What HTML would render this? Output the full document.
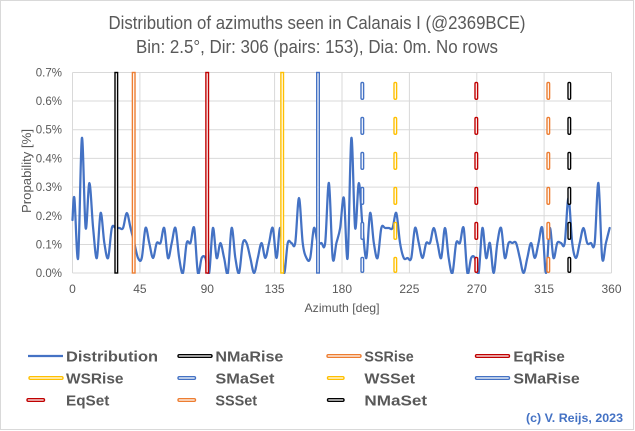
<!DOCTYPE html>
<html><head><meta charset="utf-8">
<style>
html,body{margin:0;padding:0;background:#fff;}
svg{display:block;font-family:"Liberation Sans",Arial,sans-serif;}
</style></head>
<body>
<svg width="635" height="431" viewBox="0 0 635 431" xmlns="http://www.w3.org/2000/svg">
<rect x="0" y="0" width="635" height="431" fill="#fff"/>
<rect x="0.5" y="0.5" width="633" height="429" fill="none" stroke="#D9D9D9" stroke-width="1"/>

<!-- Title -->
<text x="317" y="29" text-anchor="middle" font-size="18" fill="#595959" textLength="417" lengthAdjust="spacingAndGlyphs">Distribution of azimuths seen in  Calanais I (@2369BCE)</text>
<text x="317" y="53" text-anchor="middle" font-size="18" fill="#595959" textLength="362" lengthAdjust="spacingAndGlyphs">Bin: 2.5°, Dir: 306 (pairs: 153), Dia: 0m. No rows</text>

<!-- gridlines -->
<g stroke="#D9D9D9" stroke-width="1" fill="none">
<line x1="72.5" y1="72.5" x2="611.5" y2="72.5"/>
<line x1="72.5" y1="101" x2="611.5" y2="101"/>
<line x1="72.5" y1="129.7" x2="611.5" y2="129.7"/>
<line x1="72.5" y1="158.4" x2="611.5" y2="158.4"/>
<line x1="72.5" y1="187.1" x2="611.5" y2="187.1"/>
<line x1="72.5" y1="215.8" x2="611.5" y2="215.8"/>
<line x1="72.5" y1="244.5" x2="611.5" y2="244.5"/>
<line x1="72.5" y1="273" x2="611.5" y2="273"/>
<line x1="72.5" y1="72.5" x2="72.5" y2="273"/>
<line x1="139.9" y1="72.5" x2="139.9" y2="273"/>
<line x1="207.3" y1="72.5" x2="207.3" y2="273"/>
<line x1="274.6" y1="72.5" x2="274.6" y2="273"/>
<line x1="342" y1="72.5" x2="342" y2="273"/>
<line x1="409.4" y1="72.5" x2="409.4" y2="273"/>
<line x1="476.8" y1="72.5" x2="476.8" y2="273"/>
<line x1="544.1" y1="72.5" x2="544.1" y2="273"/>
<line x1="611.5" y1="72.5" x2="611.5" y2="273"/>
</g>

<!-- y tick labels -->
<g font-size="11.5" fill="#595959" text-anchor="end">
<text x="62" y="76.5">0.7%</text>
<text x="62" y="105">0.6%</text>
<text x="62" y="133.7">0.5%</text>
<text x="62" y="162.4">0.4%</text>
<text x="62" y="191.1">0.3%</text>
<text x="62" y="219.8">0.2%</text>
<text x="62" y="248.5">0.1%</text>
<text x="62" y="277">0.0%</text>
</g>
<!-- x tick labels -->
<g font-size="12" fill="#595959" text-anchor="middle">
<text x="72.5" y="293">0</text>
<text x="139.9" y="293">45</text>
<text x="207.3" y="293">90</text>
<text x="274.6" y="293">135</text>
<text x="342" y="293">180</text>
<text x="409.4" y="293">225</text>
<text x="476.8" y="293">270</text>
<text x="544.1" y="293">315</text>
<text x="611.5" y="293">360</text>
</g>
<text x="342" y="312" text-anchor="middle" font-size="12" fill="#595959" textLength="75" lengthAdjust="spacingAndGlyphs">Azimuth  [deg]</text>
<text transform="translate(31,171) rotate(-90)" text-anchor="middle" font-size="12.5" fill="#595959" textLength="84" lengthAdjust="spacingAndGlyphs">Propability [%]</text>

<defs><clipPath id="pc"><rect x="60" y="60" width="560" height="214"/></clipPath></defs>

<!-- distribution curve -->
<path id="dist" clip-path="url(#pc)" fill="none" stroke="#4472C4" stroke-width="2.25" stroke-linejoin="round" stroke-linecap="round" d=""/>

<!-- solid outlined vertical lines -->
<g fill="#fff" stroke-width="1.4">
<rect x="115" y="72.5" width="2.6" height="200.5" stroke="#000000"/>
<rect x="132.4" y="72.5" width="2.6" height="200.5" stroke="#ED7D31"/>
<rect x="205.9" y="72.5" width="2.6" height="200.5" stroke="#C00000"/>
<rect x="280.9" y="72.5" width="2.6" height="200.5" stroke="#FFC000"/>
<rect x="316.7" y="72.5" width="2.6" height="200.5" stroke="#4472C4"/>
</g>

<!-- dashed outlined vertical lines -->
<g id="dashes" fill="#fff" stroke-width="1.4"></g>

<!-- Legend -->
<g font-size="15" font-weight="bold" fill="#595959">
<line x1="28" y1="356" x2="63" y2="356" stroke="#4472C4" stroke-width="2.25"/>
<text x="66" y="361.5" textLength="92" lengthAdjust="spacingAndGlyphs">Distribution</text>
<rect x="178" y="354.7" width="34" height="2.6" rx="1.3" fill="#fff" stroke="#000" stroke-width="1.4"/>
<text x="215.4" y="361.5" textLength="68" lengthAdjust="spacingAndGlyphs">NMaRise</text>
<rect x="327" y="354.7" width="34" height="2.6" rx="1.3" fill="#fff" stroke="#ED7D31" stroke-width="1.4"/>
<text x="364.4" y="361.5" textLength="49.4" lengthAdjust="spacingAndGlyphs">SSRise</text>
<rect x="475.5" y="354.7" width="34" height="2.6" rx="1.3" fill="#fff" stroke="#C00000" stroke-width="1.4"/>
<text x="513.4" y="361.5" textLength="51.4" lengthAdjust="spacingAndGlyphs">EqRise</text>

<rect x="29" y="376.7" width="34" height="2.6" rx="1.3" fill="#fff" stroke="#FFC000" stroke-width="1.4"/>
<text x="66" y="383.5" textLength="57.5" lengthAdjust="spacingAndGlyphs">WSRise</text>
<rect x="178" y="376.7" width="17.5" height="2.6" rx="1.3" fill="#fff" stroke="#4472C4" stroke-width="1.4"/>
<text x="215.4" y="383.5" textLength="59" lengthAdjust="spacingAndGlyphs">SMaSet</text>
<rect x="327.5" y="376.7" width="16.5" height="2.6" rx="1.3" fill="#fff" stroke="#FFC000" stroke-width="1.4"/>
<text x="364.4" y="383.5" textLength="50.6" lengthAdjust="spacingAndGlyphs">WSSet</text>
<rect x="475.5" y="376.7" width="34" height="2.6" rx="1.3" fill="#fff" stroke="#4472C4" stroke-width="1.4"/>
<text x="513.4" y="383.5" textLength="66.4" lengthAdjust="spacingAndGlyphs">SMaRise</text>

<rect x="27" y="398.7" width="17.5" height="2.6" rx="1.3" fill="#fff" stroke="#C00000" stroke-width="1.4"/>
<text x="66" y="405.5" textLength="43.3" lengthAdjust="spacingAndGlyphs">EqSet</text>
<rect x="178" y="398.7" width="17.5" height="2.6" rx="1.3" fill="#fff" stroke="#ED7D31" stroke-width="1.4"/>
<text x="215.4" y="405.5" textLength="41.7" lengthAdjust="spacingAndGlyphs">SSSet</text>
<rect x="327.5" y="398.7" width="16.5" height="2.6" rx="1.3" fill="#fff" stroke="#000" stroke-width="1.4"/>
<text x="364.4" y="405.5" textLength="62.7" lengthAdjust="spacingAndGlyphs">NMaSet</text>
</g>
<text x="526" y="422" font-size="12" font-weight="bold" fill="#4472C4" textLength="97" lengthAdjust="spacingAndGlyphs">(c) V. Reijs, 2023</text>
</svg>

<script>
(function(){
var v=[5,1,9,3,6,3,1,4,2,1,3,3,3,3,4,3,2,1,1,3,2,1,2,2,3,1,2,3,1,0,
2,2,3,0,1,1,0,3,1,2,1,0,3,1,0,2,2,1,0,1,2,1,2,3,1,3,0,2,2,2,
5,2,1,1,3,2,2,2,6,1,2,3,5,1,9,3,6,3,1,4,2,1,3,3,3,3,4,2,1,1,
1,3,2,1,2,2,3,2,1,3,1,0,2,2,3,0,1,1,0,3,1,2,0,2,3,1,2,2,2,1,
0,1,2,1,2,3,0,3,1,2,2,2,5,2,1,2,3,2,2,2,6,1,2,3];
var p=[[72.5,220]];
for(var k=0;k<v.length;k++){p.push([74.4+3.743*k,273-15*v[k]]);}
var d="M"+p[0][0].toFixed(2)+","+p[0][1].toFixed(2);
for(var i=0;i<p.length-1;i++){
 var a=p[i-1]||p[i],b=p[i],c=p[i+1],e=p[i+2]||p[i+1];
 var c1x=b[0]+(c[0]-a[0])/6,c1y=b[1]+(c[1]-a[1])/6;
 var c2x=c[0]-(e[0]-b[0])/6,c2y=c[1]-(e[1]-b[1])/6;
 d+="C"+c1x.toFixed(2)+","+c1y.toFixed(2)+" "+c2x.toFixed(2)+","+c2y.toFixed(2)+" "+c[0].toFixed(2)+","+c[1].toFixed(2);
}
document.getElementById("dist").setAttribute("d",d);
var ns="http://www.w3.org/2000/svg";
var g=document.getElementById("dashes");
var cols=[[362.3,"#4472C4"],[395.3,"#FFC000"],[476.3,"#C00000"],[548.3,"#ED7D31"],[569.3,"#000000"]];
var ys=[[81.7,100],[116.7,135],[151.7,170],[186.7,205],[221.7,240],[256.7,273]];
cols.forEach(function(cc){
 ys.forEach(function(yy){
  var r=document.createElementNS(ns,"rect");
  r.setAttribute("x",(cc[0]-1.3).toFixed(2));
  r.setAttribute("y",(yy[0]+0.7).toFixed(2));
  r.setAttribute("width","2.6");
  r.setAttribute("height",(yy[1]-yy[0]-1.4).toFixed(2));
  r.setAttribute("rx","1.3");
  r.setAttribute("stroke",cc[1]);
  g.appendChild(r);
 });
});
})();
</script>
</body></html>
